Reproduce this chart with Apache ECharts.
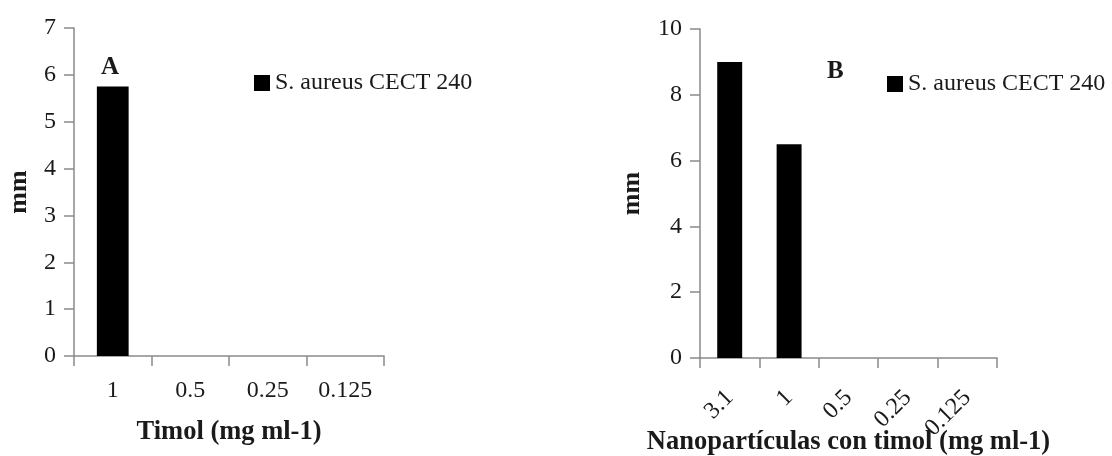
<!DOCTYPE html>
<html>
<head>
<meta charset="utf-8">
<script src="https://cdn.jsdelivr.net/npm/echarts@6/dist/echarts.min.js"></script>
<style>
html,body{margin:0;padding:0;background:#fff;}
#chart{width:1112px;height:456px;}
</style>
</head>
<body>
<div id="chart"></div>
<script>
// ---- Data ----
const seriesName = 'S. aureus CECT 240';
const categoriesA = ['1', '0.5', '0.25', '0.125'];
const valuesA = [5.75, 0, 0, 0];
const categoriesB = ['3.1', '1', '0.5', '0.25', '0.125'];
const valuesB = [9, 6.5, 0, 0, 0];
const xTitleA = 'Timol (mg ml-1)';
const xTitleB = 'Nanopartículas con timol (mg ml-1)';
const yTitle = 'mm';
const panelA = 'A';
const panelB = 'B';

const FONT = "'Liberation Serif', 'Times New Roman', serif";
const AXIS_COLOR = '#8a8a8a';
const TEXT_COLOR = '#1a1a1a';

const chart = echarts.init(document.getElementById('chart'), null, {renderer: 'canvas'});

function xAxisCfg(gridIndex, data, name, gap, labelOpts) {
  return {
    type: 'category', gridIndex: gridIndex, data: data,
    name: name, nameLocation: 'middle', nameGap: gap, nameMoveOverlap: false,
    nameTextStyle: {fontFamily: FONT, fontSize: 26.5, fontWeight: 'bold', color: TEXT_COLOR},
    axisLine: {show: true, lineStyle: {color: AXIS_COLOR, width: 1.5}},
    axisTick: {show: true, length: 10, lineStyle: {color: AXIS_COLOR, width: 1.5}},
    axisLabel: Object.assign({fontFamily: FONT, fontSize: 24, color: TEXT_COLOR, interval: 0}, labelOpts),
    splitLine: {show: false}
  };
}
function yAxisCfg(gridIndex, max, interval, gap) {
  return {
    type: 'value', gridIndex: gridIndex, min: 0, max: max, interval: interval,
    name: yTitle, nameLocation: 'middle', nameGap: gap, nameMoveOverlap: false,
    nameTextStyle: {fontFamily: FONT, fontSize: 26, fontWeight: 'bold', color: TEXT_COLOR},
    axisLine: {show: true, lineStyle: {color: AXIS_COLOR, width: 1.5}},
    axisTick: {show: true, length: 10, lineStyle: {color: AXIS_COLOR, width: 1.5}},
    axisLabel: {fontFamily: FONT, fontSize: 24, color: TEXT_COLOR, margin: 18},
    splitLine: {show: false}
  };
}

const option = {
  backgroundColor: '#fff',
  animation: false,
  grid: [
    {left: 74, top: 28, width: 310, height: 328, outerBoundsMode: 'none', containLabel: false},
    {left: 700, top: 29, width: 297, height: 329, outerBoundsMode: 'none', containLabel: false}
  ],
  xAxis: [
    xAxisCfg(0, categoriesA, xTitleA, 63, {rotate: 0, margin: 23}),
    xAxisCfg(1, categoriesB, xTitleB, 71, {rotate: 45, margin: 36})
  ],
  yAxis: [
    yAxisCfg(0, 7, 1, 42),
    yAxisCfg(1, 10, 2, 55)
  ],
  legend: [
    {left: 249, top: 66, icon: 'rect', itemWidth: 16, itemHeight: 16,
     data: [{name: seriesName}],
     textStyle: {fontFamily: FONT, fontSize: 24, color: TEXT_COLOR}},
    {left: 882, top: 67, icon: 'rect', itemWidth: 16, itemHeight: 16,
     data: [{name: seriesName}],
     textStyle: {fontFamily: FONT, fontSize: 24, color: TEXT_COLOR}}
  ],
  graphic: [
    {type: 'text', left: 101, top: 55, style: {text: panelA, font: 'bold 25px ' + FONT, fill: TEXT_COLOR}},
    {type: 'text', left: 827, top: 59, style: {text: panelB, font: 'bold 25px ' + FONT, fill: TEXT_COLOR}}
  ],
  series: [
    {type: 'bar', name: seriesName, xAxisIndex: 0, yAxisIndex: 0, data: valuesA,
     barWidth: '41%', itemStyle: {color: '#000'}},
    {type: 'bar', name: seriesName, xAxisIndex: 1, yAxisIndex: 1, data: valuesB,
     barWidth: '42%', itemStyle: {color: '#000'}}
  ]
};
chart.setOption(option);
</script>
</body>
</html>
